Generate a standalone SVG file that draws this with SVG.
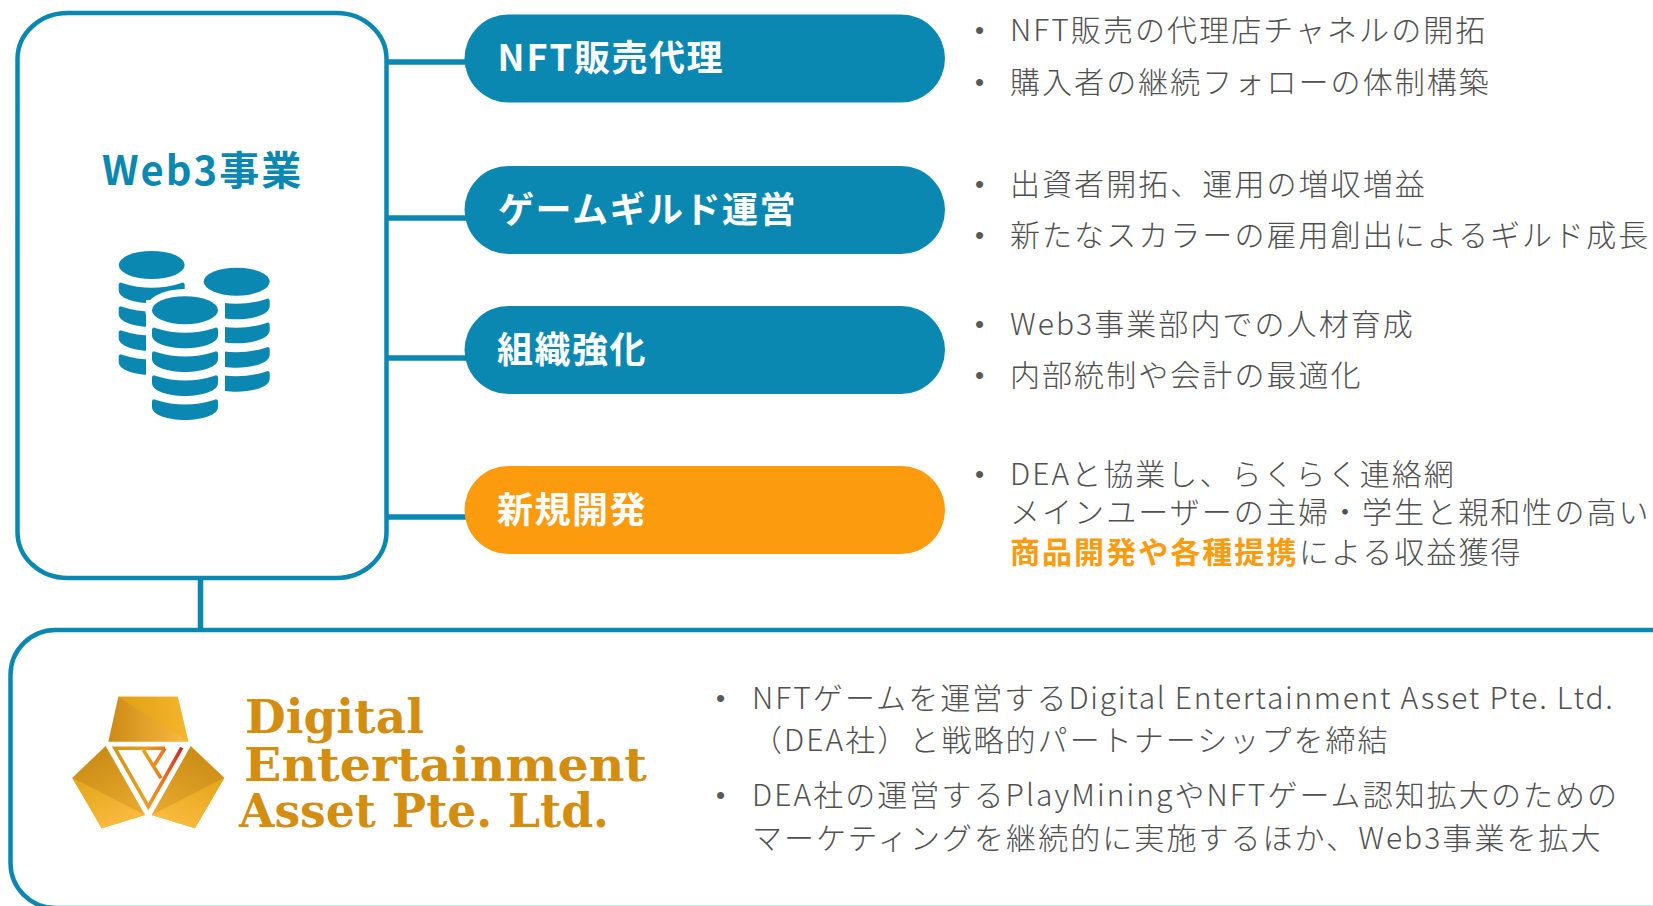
<svg xmlns="http://www.w3.org/2000/svg" width="1653" height="906" viewBox="0 0 1653 906">
<style>
text{font-family:"Noto Sans CJK JP","Liberation Sans",sans-serif}
.box{fill:#fff;stroke:#0B88B2;stroke-width:4.5}
.teal{fill:#0B88B2}
.orange{fill:#FD9B0F}
.lab{fill:#fff;font-size:36px;font-weight:700;letter-spacing:1.5px}
.t{fill:#505050;font-size:30px;letter-spacing:2.06px;font-weight:300}
.b{fill:#595959;font-size:26px;font-family:"Liberation Sans",sans-serif}
.o{fill:#FD9B0F;font-size:30px;font-weight:700;letter-spacing:2.05px}
.logo{fill:#D38E12;font-family:"DejaVu Serif",serif;font-weight:700;font-size:46px}
.conn{fill:none;stroke:#0B88B2;stroke-width:5.500}
</style>
<defs>
<path id="band" d="M-33 2Q-32-1-29 1Q0 10 29 1Q32-1 33 2V8C33 16 17 21 0 21C-17 21-33 16-33 8Z"/>
<linearGradient id="gT" x1="0" y1="0" x2="1" y2="0"><stop offset="0" stop-color="#CC8A14"/><stop offset="1" stop-color="#FBBC42"/></linearGradient>
<linearGradient id="gTf" x1="0" y1="0" x2="1" y2="0"><stop offset="0" stop-color="#E0A012"/><stop offset="1" stop-color="#F4B52E"/></linearGradient>
<linearGradient id="gL" x1="0.3" y1="0" x2="0.7" y2="1"><stop offset="0" stop-color="#C98A14"/><stop offset="1" stop-color="#EAAC30"/></linearGradient>
<linearGradient id="gLf" x1="0" y1="0" x2="0.7" y2="1"><stop offset="0" stop-color="#E2A417"/><stop offset="1" stop-color="#FBBC42"/></linearGradient>
<linearGradient id="gR" x1="0.7" y1="0" x2="0.3" y2="1"><stop offset="0" stop-color="#C98A14"/><stop offset="1" stop-color="#EAAC30"/></linearGradient>
<linearGradient id="gRf" x1="1" y1="0" x2="0.3" y2="1"><stop offset="0" stop-color="#E2A417"/><stop offset="1" stop-color="#FBBC42"/></linearGradient>
<linearGradient id="gV" gradientUnits="userSpaceOnUse" x1="115" y1="760" x2="182" y2="760"><stop offset="0" stop-color="#D4941A"/><stop offset="0.45" stop-color="#E8A020"/><stop offset="0.7" stop-color="#EE7A20"/><stop offset="1" stop-color="#C8281E"/></linearGradient>
</defs>
<g id="connectors">
<path class="conn" d="M387 62H466M387 218H466M387 358H466M387 517H466M200.500 578V631"/>
</g>
<g id="web3">
<rect class="box" x="17.500" y="13" width="369" height="565" rx="50" ry="46"/>
<text x="102" y="185" font-size="40" font-weight="700" letter-spacing="2" fill="#0B88B2">Web3事業</text>
<g id="coins" class="teal">
<use href="#band" x="151.700" y="282.300"/><use href="#band" x="151.700" y="306"/><use href="#band" x="151.700" y="330"/><use href="#band" x="151.700" y="354"/>
<use href="#band" x="236.700" y="298.300"/><use href="#band" x="236.700" y="322.300"/><use href="#band" x="236.700" y="346.700"/><use href="#band" x="236.700" y="370.700"/>
<rect x="146" y="300" width="79" height="125" fill="#fff"/>
<ellipse cx="185" cy="310" rx="40" ry="21" fill="#fff"/>
<ellipse cx="151.700" cy="265" rx="33" ry="14"/>
<ellipse cx="236.700" cy="281.700" rx="33" ry="14"/>
<ellipse cx="185" cy="310.200" rx="33" ry="14"/>
<use href="#band" x="185" y="327.300"/><use href="#band" x="185" y="351"/><use href="#band" x="185" y="375"/><use href="#band" x="185" y="399"/>
</g>
</g>
<g id="nft">
<rect class="teal" x="464.500" y="14.500" width="480.500" height="88" rx="44"/>
<text class="lab" x="497.500" y="71"><tspan letter-spacing="2">NFT</tspan>販売代理</text>
<text class="b" x="975" y="39">•</text><text class="t" x="1010" y="41">NFT販売の代理店チャネルの開拓</text>
<text class="b" x="975" y="91">•</text><text class="t" x="1010" y="93">購入者の継続フォローの体制構築</text>
</g>
<g id="guild">
<rect class="teal" x="464.500" y="166" width="480.500" height="88" rx="44"/>
<text class="lab" x="498" y="223">ゲームギルド運営</text>
<text class="b" x="975" y="193">•</text><text class="t" x="1010" y="195">出資者開拓、運用の増収増益</text>
<text class="b" x="975" y="244">•</text><text class="t" x="1010" y="246">新たなスカラーの雇用創出によるギルド成長</text>
</g>
<g id="org">
<rect class="teal" x="464.500" y="306" width="480.500" height="88" rx="44"/>
<text class="lab" x="497" y="363">組織強化</text>
<text class="b" x="975" y="333">•</text><text class="t" x="1010" y="335">Web3事業部内での人材育成</text>
<text class="b" x="975" y="384">•</text><text class="t" x="1010" y="386">内部統制や会計の最適化</text>
</g>
<g id="newdev">
<rect class="orange" x="464.500" y="466" width="480.500" height="88" rx="44"/>
<text class="lab" x="497" y="523">新規開発</text>
<text class="b" x="975" y="483">•</text><text class="t" x="1010" y="485">DEAと協業し、らくらく連絡網</text>
<text class="t" x="1010" y="523">メインユーザーの主婦・学生と親和性の高い</text>
<text class="o" x="1010" y="563">商品開発や各種提携</text><text class="t" x="1299" y="563">による収益獲得</text>
</g>
<g id="dea">
<rect class="box" x="10.500" y="630" width="1800" height="278" rx="45"/>
<g id="deaLogo">
<polygon points="118.300,696.700 177.700,696.700 188.300,741.700 108.300,741.700" fill="url(#gT)"/>
<polygon points="118.300,696.700 177.700,696.700 188.300,741.700" fill="url(#gTf)"/>
<polygon points="105.700,746 145,815 101.700,828.300 72.300,777.700" fill="url(#gL)"/>
<polygon points="72.300,777.700 145,815 101.700,828.300" fill="url(#gLf)"/>
<polygon points="190.700,746 151.700,815 195,828.300 224.300,777.700" fill="url(#gR)"/>
<polygon points="224.300,777.700 151.700,815 195,828.300" fill="url(#gRf)"/>
<path d="M165 748.300H115L148.300 806.700L181.700 747.700M165 748.300L154.300 765M143.300 750L161 778.300" fill="none" stroke="url(#gV)" stroke-width="3.600"/>
<text class="logo" x="245" y="733" textLength="179" lengthAdjust="spacingAndGlyphs">Digital</text>
<text class="logo" x="244" y="781" textLength="403" lengthAdjust="spacingAndGlyphs">Entertainment</text>
<text class="logo" x="239" y="827" textLength="370" lengthAdjust="spacingAndGlyphs">Asset Pte. Ltd.</text>
</g>
<text class="b" x="716" y="707">•</text><text class="t" x="752" y="709">NFTゲームを運営する<tspan letter-spacing="1.700">Digital Entertainment Asset Pte. Ltd.</tspan></text>
<text class="t" x="752" y="751">（DEA社）と戦略的パートナーシップを締結</text>
<text class="b" x="716" y="804">•</text><text class="t" x="752" y="806">DEA社の運営するPlayMiningやNFTゲーム認知拡大のための</text>
<text class="t" x="752" y="849">マーケティングを継続的に実施するほか、Web3事業を拡大</text>
</g>
</svg>
